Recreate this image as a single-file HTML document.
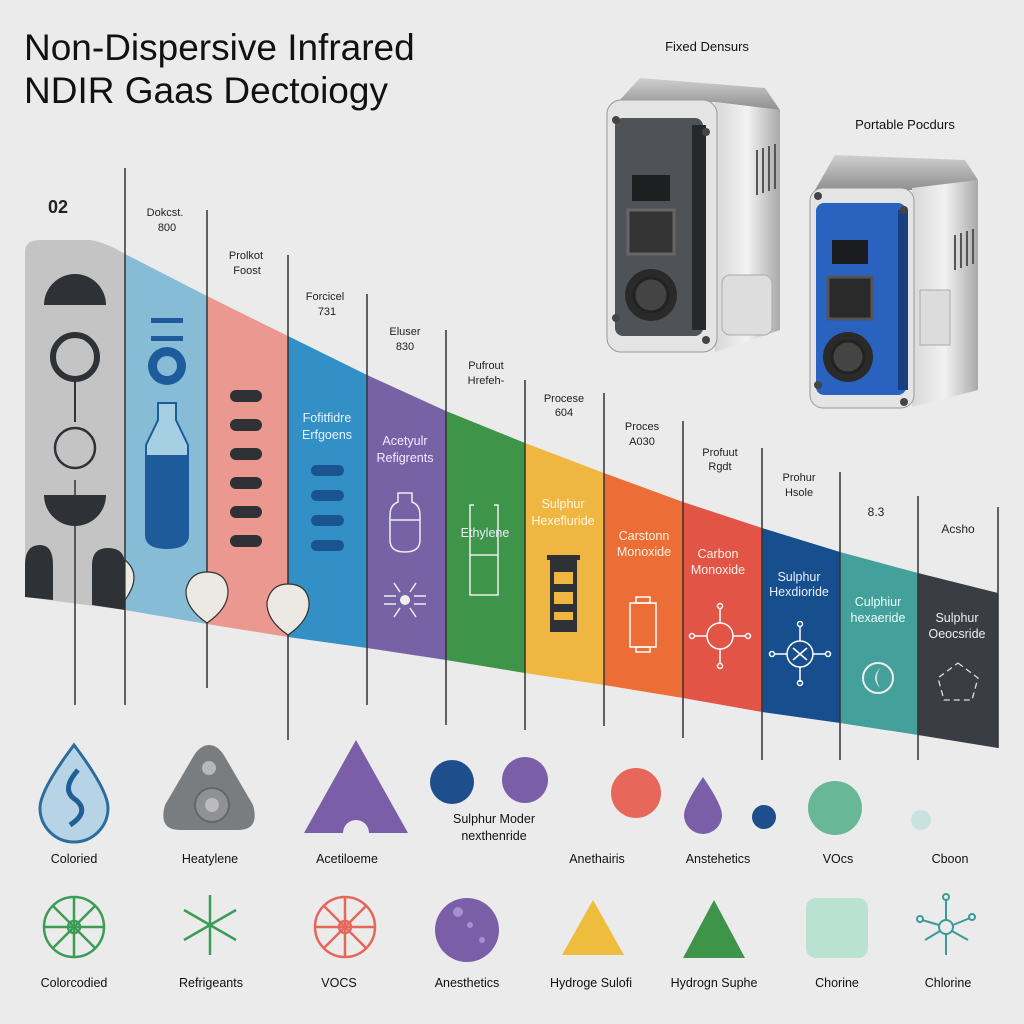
<!DOCTYPE html>
<html><head><meta charset="utf-8"><style>
html,body{margin:0;padding:0;background:#ebebeb;}
svg{display:block;font-family:"Liberation Sans",sans-serif;}
</style></head><body>
<svg width="1024" height="1024" viewBox="0 0 1024 1024" xmlns="http://www.w3.org/2000/svg">
<defs>
<linearGradient id="met" x1="0" x2="1" y1="0" y2="0"><stop offset="0" stop-color="#d8d8d8"/><stop offset="0.5" stop-color="#f2f2f2"/><stop offset="1" stop-color="#a9a9a9"/></linearGradient>
<linearGradient id="top" x1="0" x2="0" y1="0" y2="1"><stop offset="0" stop-color="#cfcfcf"/><stop offset="1" stop-color="#8f8f8f"/></linearGradient>
</defs>
<rect width="1024" height="1024" fill="#ebebeb"/>
<text x="24" y="60" font-size="37" fill="#111">Non-Dispersive Infrared</text>
<text x="24" y="103" font-size="37" fill="#111">NDIR Gaas Dectoiogy</text>

<!-- Fixed device -->
<text x="707" y="51" font-size="13" text-anchor="middle" fill="#111">Fixed Densurs</text>
<path d="M618 102 L640 78 L765 88 L780 110 L715 102 Z" fill="url(#top)"/>
<path d="M715 102 L780 110 L780 330 L715 352 Z" fill="url(#met)"/>
<rect x="607" y="100" width="110" height="252" rx="14" fill="#e4e4e4" stroke="#999"/>
<rect x="615" y="118" width="88" height="218" rx="8" fill="#4f5358"/>
<rect x="692" y="125" width="14" height="205" fill="#26282b"/>
<rect x="632" y="175" width="38" height="26" fill="#1e1f21"/>
<rect x="628" y="210" width="46" height="44" fill="#333" stroke="#666" stroke-width="3"/>
<circle cx="651" cy="295" r="26" fill="#2a2a2a"/><circle cx="651" cy="295" r="17" fill="#444" stroke="#222" stroke-width="3"/>
<g stroke="#555" stroke-width="2"><line x1="757" y1="150" x2="757" y2="195"/><line x1="763" y1="148" x2="763" y2="193"/><line x1="769" y1="146" x2="769" y2="191"/><line x1="775" y1="144" x2="775" y2="189"/></g>
<rect x="722" y="275" width="50" height="60" rx="8" fill="#ddd" stroke="#aaa"/>
<g fill="#444"><circle cx="616" cy="120" r="4"/><circle cx="706" cy="132" r="4"/><circle cx="616" cy="318" r="4"/><circle cx="706" cy="340" r="4"/></g>

<!-- Portable device -->
<text x="905" y="129" font-size="13" text-anchor="middle" fill="#111">Portable Pocdurs</text>
<path d="M815 190 L835 155 L965 160 L978 180 L912 190 Z" fill="url(#top)"/>
<path d="M912 188 L978 180 L978 390 L912 407 Z" fill="url(#met)"/>
<rect x="810" y="188" width="104" height="220" rx="13" fill="#e4e4e4" stroke="#999"/>
<rect x="816" y="203" width="90" height="192" rx="8" fill="#2a62bf"/>
<rect x="898" y="210" width="10" height="180" fill="#1a3f80"/>
<rect x="832" y="240" width="36" height="24" fill="#1b1c20"/>
<rect x="828" y="277" width="44" height="42" fill="#2a2a2a" stroke="#555" stroke-width="3"/>
<circle cx="848" cy="357" r="25" fill="#2a2a2a"/><circle cx="848" cy="357" r="16" fill="#444" stroke="#222" stroke-width="3"/>
<g stroke="#555" stroke-width="2"><line x1="955" y1="235" x2="955" y2="270"/><line x1="961" y1="233" x2="961" y2="268"/><line x1="967" y1="231" x2="967" y2="266"/><line x1="973" y1="229" x2="973" y2="264"/></g>
<rect x="920" y="290" width="30" height="55" fill="#dcdcdc" stroke="#aaa"/>
<g fill="#444"><circle cx="818" cy="196" r="4"/><circle cx="904" cy="210" r="4"/><circle cx="818" cy="385" r="4"/><circle cx="904" cy="402" r="4"/></g>

<!-- band strips -->
<path d="M25 252 Q25 240 40 240 L90 240 Q105 242 125 254 L125 610 L25 597 Z" fill="#c4c4c4"/>
<polygon points="125,254 207,296 207,624 125,610" fill="#86bcd6"/>
<polygon points="207,296 288,336 288,637 207,624" fill="#ea9890"/>
<polygon points="288,336 367,375 367,648 288,637" fill="#3290c6"/>
<polygon points="367,375 446,411 446,660 367,648" fill="#7862a6"/>
<polygon points="446,411 525,443 525,673 446,660" fill="#3e9448"/>
<polygon points="525,443 604,473 604,685 525,673" fill="#efb642"/>
<polygon points="604,473 683,502 683,698 604,685" fill="#ec6e36"/>
<polygon points="683,502 762,528 762,712 683,698" fill="#e15446"/>
<polygon points="762,528 840,552 840,723 762,712" fill="#174f8e"/>
<polygon points="840,552 918,573 918,735 840,723" fill="#43a09a"/>
<polygon points="918,573 998,593 998,748 918,735" fill="#3a3e44"/>

<!-- vertical lines -->
<g stroke="#333" stroke-width="1.5">
<line x1="75" y1="480" x2="75" y2="705"/>
<line x1="125" y1="168" x2="125" y2="705"/>
<line x1="207" y1="210" x2="207" y2="688"/>
<line x1="288" y1="255" x2="288" y2="740"/>
<line x1="367" y1="294" x2="367" y2="705"/>
<line x1="446" y1="330" x2="446" y2="725"/>
<line x1="525" y1="380" x2="525" y2="730"/>
<line x1="604" y1="393" x2="604" y2="726"/>
<line x1="683" y1="421" x2="683" y2="738"/>
<line x1="762" y1="448" x2="762" y2="760"/>
<line x1="840" y1="472" x2="840" y2="760"/>
<line x1="918" y1="496" x2="918" y2="760"/>
<line x1="998" y1="507" x2="998" y2="748"/>
</g>

<!-- labels above -->
<g font-size="11" fill="#222" text-anchor="middle">
<text x="58" y="213" font-size="18" font-weight="bold">02</text>
<text x="165" y="216">Dokcst.</text><text x="167" y="231">800</text>
<text x="246" y="259">Prolkot</text><text x="247" y="274">Foost</text>
<text x="325" y="300">Forcicel</text><text x="327" y="315">731</text>
<text x="405" y="335">Eluser</text><text x="405" y="350">830</text>
<text x="486" y="369">Pufrout</text><text x="486" y="384">Hrefeh-</text>
<text x="564" y="402">Procese</text><text x="564" y="416">604</text>
<text x="642" y="430">Proces</text><text x="642" y="445">A030</text>
<text x="720" y="456">Profuut</text><text x="720" y="470">Rgdt</text>
<text x="799" y="481">Prohur</text><text x="799" y="496">Hsole</text>
<text x="876" y="516" font-size="12">8.3</text>
<text x="958" y="533" font-size="12">Acsho</text>
</g>

<!-- gray strip icons -->
<path d="M44 305 A31 31 0 0 1 106 305 Z" fill="#2e3136"/>
<circle cx="75" cy="357" r="22" fill="none" stroke="#2e3136" stroke-width="6"/>
<line x1="75" y1="380" x2="75" y2="422" stroke="#2e3136" stroke-width="2"/>
<circle cx="75" cy="448" r="20" fill="none" stroke="#2e3136" stroke-width="2.5"/>
<path d="M44 495 A31 31 0 0 0 106 495 Z" fill="#2e3136"/>
<path d="M25 597 L25 565 Q25 545 40 545 Q53 545 53 565 L53 600 Z" fill="#2e3136"/>
<path d="M92 605 L92 565 Q92 548 108 548 Q125 548 125 565 L125 610 Z" fill="#2e3136"/>
<!-- light blue icons -->
<rect x="151" y="318" width="32" height="5" fill="#1d5b9a"/><rect x="151" y="336" width="32" height="5" fill="#1d5b9a"/>
<circle cx="167" cy="366" r="19" fill="#1d5b9a"/><circle cx="167" cy="366" r="10" fill="#86bcd6"/>
<path d="M158 403 L176 403 L176 420 L188 445 L188 535 Q188 548 167 548 Q146 548 146 535 L146 445 L158 420 Z" fill="#a6cfe3" stroke="#1d5b9a" stroke-width="2"/>
<path d="M146 455 L188 455 L188 535 Q188 548 167 548 Q146 548 146 535 Z" fill="#1d5b9a"/>
<!-- salmon bars -->
<g fill="#2e3136"><rect x="230" y="390" width="32" height="12" rx="6"/><rect x="230" y="419" width="32" height="12" rx="6"/><rect x="230" y="448" width="32" height="12" rx="6"/><rect x="230" y="477" width="32" height="12" rx="6"/><rect x="230" y="506" width="32" height="12" rx="6"/><rect x="230" y="535" width="32" height="12" rx="6"/></g>
<!-- drops -->
<g fill="#ece8e2" stroke="#333" stroke-width="1.2">
<path d="M125 560 Q143 575 125 600 Z"/>
<path d="M207 623 Q185 608 186 590 Q190 572 207 572 Q226 572 228 590 Q229 608 207 623 Z"/>
<path d="M288 635 Q266 620 267 602 Q271 584 288 584 Q307 584 309 602 Q310 620 288 635 Z"/>
</g>
<!-- blue strip -->
<g font-size="12.5" fill="#e8f4ff" text-anchor="middle"><text x="327" y="422">Fofitfidre</text><text x="327" y="439">Erfgoens</text></g>
<g fill="#1a5590"><rect x="311" y="465" width="33" height="11" rx="5.5"/><rect x="311" y="490" width="33" height="11" rx="5.5"/><rect x="311" y="515" width="33" height="11" rx="5.5"/><rect x="311" y="540" width="33" height="11" rx="5.5"/></g>
<!-- purple -->
<g font-size="12.5" fill="#f2ecff" text-anchor="middle"><text x="405" y="445">Acetyulr</text><text x="405" y="462">Refigrents</text></g>
<path d="M398 493 L412 493 L412 502 Q420 505 420 515 L420 540 Q420 552 405 552 Q390 552 390 540 L390 515 Q390 505 398 502 Z" fill="none" stroke="#eee" stroke-width="1.5"/>
<line x1="390" y1="520" x2="420" y2="520" stroke="#eee" stroke-width="1.5"/>
<circle cx="405" cy="600" r="5" fill="#eee"/>
<g stroke="#eee" stroke-width="1.5"><line x1="384" y1="596" x2="396" y2="596"/><line x1="384" y1="604" x2="396" y2="604"/><line x1="414" y1="596" x2="426" y2="596"/><line x1="414" y1="604" x2="426" y2="604"/><line x1="400" y1="592" x2="394" y2="583"/><line x1="410" y1="592" x2="416" y2="583"/><line x1="400" y1="608" x2="394" y2="617"/><line x1="410" y1="608" x2="416" y2="617"/></g>
<!-- green -->
<path d="M474 505 L470 505 L470 595 L498 595 L498 505 L494 505 M470 555 L498 555" fill="none" stroke="#eee" stroke-width="1.5"/>
<text x="485" y="537" font-size="12.5" fill="#eef" text-anchor="middle">Ethylene</text>
<!-- yellow -->
<g font-size="12.5" fill="#fff8e0" text-anchor="middle"><text x="563" y="508">Sulphur</text><text x="563" y="525">Hexefluride</text></g>
<rect x="550" y="560" width="27" height="72" fill="#2e3136"/>
<rect x="547" y="555" width="33" height="5" fill="#2e3136"/>
<rect x="554" y="572" width="19" height="12" fill="#efb642"/><rect x="554" y="592" width="19" height="12" fill="#efb642"/><rect x="554" y="612" width="19" height="8" fill="#efb642"/>
<!-- orange -->
<g font-size="12.5" fill="#fff0e0" text-anchor="middle"><text x="644" y="540">Carstonn</text><text x="644" y="556">Monoxide</text></g>
<rect x="630" y="603" width="26" height="44" fill="none" stroke="#fff" stroke-width="1.5"/>
<rect x="636" y="597" width="14" height="6" fill="none" stroke="#fff" stroke-width="1.5"/>
<rect x="636" y="647" width="14" height="5" fill="none" stroke="#fff" stroke-width="1.5"/>
<!-- red -->
<g font-size="12.5" fill="#fff0e8" text-anchor="middle"><text x="718" y="558">Carbon</text><text x="718" y="574">Monoxide</text></g>
<g stroke="#fff" stroke-width="1.5" fill="none"><circle cx="720" cy="636" r="13"/><line x1="720" y1="608" x2="720" y2="623"/><line x1="720" y1="649" x2="720" y2="664"/><line x1="694" y1="636" x2="707" y2="636"/><line x1="733" y1="636" x2="746" y2="636"/><circle cx="720" cy="606" r="2.5"/><circle cx="720" cy="666" r="2.5"/><circle cx="692" cy="636" r="2.5"/><circle cx="748" cy="636" r="2.5"/></g>
<!-- dark blue -->
<g font-size="12.5" fill="#e8f0ff" text-anchor="middle"><text x="799" y="581">Sulphur</text><text x="799" y="596">Hexdioride</text></g>
<g stroke="#fff" stroke-width="1.5" fill="none"><circle cx="800" cy="654" r="13"/><line x1="800" y1="626" x2="800" y2="641"/><line x1="800" y1="667" x2="800" y2="682"/><line x1="774" y1="654" x2="787" y2="654"/><line x1="813" y1="654" x2="826" y2="654"/><circle cx="800" cy="624" r="2.5"/><circle cx="800" cy="683" r="2.5"/><circle cx="772" cy="654" r="2.5"/><circle cx="828" cy="654" r="2.5"/><path d="M793 648 L807 660 M807 648 L793 660"/></g>
<!-- teal -->
<g font-size="12.5" fill="#e8fffc" text-anchor="middle"><text x="878" y="606">Culphiur</text><text x="878" y="622">hexaeride</text></g>
<circle cx="878" cy="678" r="15" fill="none" stroke="#eee" stroke-width="2"/>
<path d="M880 668 Q870 678 880 688 Q874 678 880 668 Z" fill="#ddd"/>
<!-- dark gray -->
<g font-size="12.5" fill="#eee" text-anchor="middle"><text x="957" y="622">Sulphur</text><text x="957" y="638">Oeocsride</text></g>
<polygon points="958,663 978,678 972,700 944,700 938,678" fill="none" stroke="#ddd" stroke-width="1.3" stroke-dasharray="6 4"/>

<!-- row 1 icons -->
<path d="M74 745 Q40 790 40 808 A34 34 0 0 0 108 808 Q108 790 74 745 Z" fill="#b7d3e6" stroke="#2a6e9e" stroke-width="3"/>
<path d="M78 770 Q60 790 76 800 Q90 812 70 825" fill="none" stroke="#1f5f95" stroke-width="5"/>
<path d="M209 745 Q200 745 193 757 L165 805 Q158 830 180 830 L238 830 Q260 830 253 805 L225 757 Q218 745 209 745 Z" fill="#7a7d80"/>
<circle cx="209" cy="768" r="7" fill="#b7b7b7"/>
<circle cx="212" cy="805" r="17" fill="#8f9195" stroke="#666" stroke-width="2"/><circle cx="212" cy="805" r="7" fill="#bbb"/>
<path d="M356 740 L304 833 L343 833 A13 13 0 0 1 369 833 L408 833 Z" fill="#7a5ea8"/>
<circle cx="452" cy="782" r="22" fill="#1e4f8c"/>
<circle cx="525" cy="780" r="23" fill="#7a5ea8"/>
<text x="494" y="823" font-size="12.5" fill="#111" text-anchor="middle">Sulphur Moder</text>
<text x="494" y="840" font-size="12.5" fill="#111" text-anchor="middle">nexthenride</text>
<circle cx="636" cy="793" r="25" fill="#e8675b"/>
<path d="M703 777 Q684 805 684 815 A19 19 0 0 0 722 815 Q722 805 703 777 Z" fill="#7a5ea8"/>
<circle cx="764" cy="817" r="12" fill="#1e4f8c"/>
<circle cx="835" cy="808" r="27" fill="#68b897"/>
<circle cx="921" cy="820" r="10" fill="#c8e3df"/>
<g font-size="12.5" fill="#111" text-anchor="middle">
<text x="74" y="863">Coloried</text><text x="210" y="863">Heatylene</text><text x="347" y="863">Acetiloeme</text>
<text x="597" y="863">Anethairis</text><text x="718" y="863">Anstehetics</text><text x="838" y="863">VOcs</text><text x="950" y="863">Cboon</text>
</g>

<!-- row 2 icons -->
<g stroke="#3c9c56" stroke-width="2.5" fill="none"><circle cx="74" cy="927" r="30"/><circle cx="74" cy="927" r="6"/>
<line x1="74" y1="897" x2="74" y2="957"/><line x1="44" y1="927" x2="104" y2="927"/><line x1="53" y1="906" x2="95" y2="948"/><line x1="95" y1="906" x2="53" y2="948"/></g>
<g stroke="#3c9c56" stroke-width="2.5"><line x1="210" y1="895" x2="210" y2="955"/><line x1="184" y1="910" x2="236" y2="940"/><line x1="184" y1="940" x2="236" y2="910"/></g>
<g stroke="#e5675a" stroke-width="2.5" fill="none"><circle cx="345" cy="927" r="30"/><circle cx="345" cy="927" r="6"/>
<line x1="345" y1="897" x2="345" y2="957"/><line x1="315" y1="927" x2="375" y2="927"/><line x1="324" y1="906" x2="366" y2="948"/><line x1="366" y1="906" x2="324" y2="948"/></g>
<circle cx="467" cy="930" r="32" fill="#7a5ea8"/>
<circle cx="458" cy="912" r="5" fill="#a58fd0"/><circle cx="482" cy="940" r="3" fill="#a58fd0"/><circle cx="470" cy="925" r="3" fill="#a58fd0"/>
<polygon points="593,900 562,955 624,955" fill="#efbd3e"/>
<polygon points="714,900 683,958 745,958" fill="#3e9448"/>
<rect x="806" y="898" width="62" height="60" rx="10" fill="#b9e2d3"/>
<g stroke="#3b9a98" stroke-width="2" fill="none"><circle cx="946" cy="927" r="7"/><line x1="946" y1="900" x2="946" y2="920"/><line x1="946" y1="934" x2="946" y2="955"/><line x1="922" y1="920" x2="939" y2="925"/><line x1="953" y1="925" x2="970" y2="918"/><line x1="925" y1="940" x2="940" y2="931"/><line x1="952" y1="931" x2="968" y2="940"/><circle cx="946" cy="897" r="3"/><circle cx="920" cy="919" r="3"/><circle cx="972" cy="917" r="3"/></g>
<g font-size="12.5" fill="#111" text-anchor="middle">
<text x="74" y="987">Colorcodied</text><text x="211" y="987">Refrigeants</text><text x="339" y="987">VOCS</text><text x="467" y="987">Anesthetics</text>
<text x="591" y="987">Hydroge Sulofi</text><text x="714" y="987">Hydrogn Suphe</text><text x="837" y="987">Chorine</text><text x="948" y="987">Chlorine</text>
</g>
</svg>
</body></html>
